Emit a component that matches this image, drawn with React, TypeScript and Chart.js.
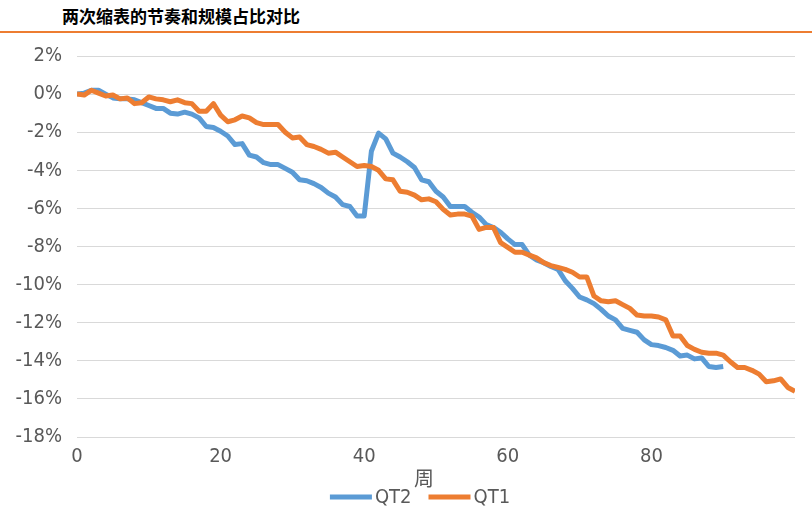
import React, { useEffect, useRef } from "react";
import { Chart, registerables } from "chart.js";

Chart.register(...registerables);

const TITLE = "两次缩表的节奏和规模占比对比";
const X_TITLE = "周";
const SERIES_NAMES = ["QT2", "QT1"];

// % change, one value per week
const QT2 = [
  0, 0.05, 0.2, 0.2, 0.0, -0.2, -0.25, -0.25, -0.3, -0.45,
  -0.6, -0.75, -0.75, -1.0, -1.05, -0.95, -1.05, -1.25, -1.7, -1.75,
  -1.95, -2.2, -2.65, -2.6, -3.2, -3.3, -3.6, -3.7, -3.7, -3.9,
  -4.1, -4.5, -4.55, -4.7, -4.9, -5.2, -5.4, -5.8, -5.9, -6.4,
  -6.4, -3.0, -2.05, -2.35, -3.1, -3.3, -3.55, -3.85, -4.5, -4.6,
  -5.1, -5.4, -5.9, -5.9, -5.9, -6.2, -6.45, -6.85, -7.0, -7.25,
  -7.6, -7.9, -7.9, -8.45, -8.7, -8.85, -9.05, -9.2, -9.8, -10.2,
  -10.65, -10.8, -11.0, -11.3, -11.65, -11.85, -12.3, -12.4, -12.5, -12.9,
  -13.15, -13.2, -13.3, -13.45, -13.75, -13.7, -13.9, -13.85, -14.3, -14.35,
  -14.3,
];

const QT1 = [
  0, -0.05, 0.2, 0.05, -0.1, -0.05, -0.25, -0.2, -0.5, -0.45,
  -0.15, -0.25, -0.3, -0.4, -0.3, -0.45, -0.5, -0.9, -0.9, -0.5,
  -1.1, -1.45, -1.35, -1.15, -1.25, -1.5, -1.6, -1.6, -1.6, -2.0,
  -2.3, -2.25, -2.65, -2.75, -2.9, -3.1, -3.05, -3.3, -3.55, -3.8,
  -3.75, -3.8, -4.0, -4.45, -4.5, -5.1, -5.15, -5.3, -5.55, -5.5,
  -5.65, -6.05, -6.35, -6.3, -6.3, -6.4, -7.1, -7.0, -7.0, -7.8,
  -8.05, -8.3, -8.3, -8.45, -8.6, -8.85, -9.0, -9.1, -9.2, -9.35,
  -9.6, -9.6, -10.6, -10.85, -10.9, -10.85, -11.05, -11.25, -11.6, -11.65,
  -11.65, -11.7, -11.85, -12.7, -12.7, -13.2, -13.4, -13.55, -13.6, -13.6,
  -13.7, -14.05, -14.35, -14.35, -14.5, -14.7, -15.1, -15.05, -14.95, -15.4,
  -15.6,
];

const WEEKS = QT1.map((_, i) => i);
const X_TICKS = [0, 20, 40, 60, 80];
const Y_MIN = -18;
const Y_MAX = 2;
const Y_STEP = 2;

const BLUE = "#5B9BD5";
const ORANGE = "#ED7D31";
const TEXT = "#595959";
const GRID = "#D9D9D9";
const NUM_FONT = '"DejaVu Sans Condensed", "Liberation Sans", sans-serif';

const overlayPlugin = {
  id: "overlay",
  afterDraw(chart: any) {
    const { ctx, chartArea } = chart;
    const mid = (chartArea.left + chartArea.right) / 2;
    ctx.save();
    ctx.fillStyle = TEXT;
    ctx.textBaseline = "middle";
    ctx.textAlign = "center";
    ctx.font = '20px "Noto Sans CJK SC"';
    ctx.fillText(X_TITLE, mid - 12, chartArea.bottom + 41);

    // legend
    ctx.font = "20px " + NUM_FONT;
    const lineLen = 42;
    const gapText = 3;
    const gapItem = 17;
    const items = [
      { name: SERIES_NAMES[0], color: BLUE },
      { name: SERIES_NAMES[1], color: ORANGE },
    ];
    const widths = items.map((it) => lineLen + gapText + ctx.measureText(it.name).width);
    const total = widths.reduce((a, b) => a + b, 0) + gapItem * (items.length - 1);
    let x = mid - 16 - total / 2;
    const y = chartArea.bottom + 60;
    ctx.textAlign = "left";
    items.forEach((it, i) => {
      ctx.strokeStyle = it.color;
      ctx.lineWidth = 5;
      ctx.lineCap = "butt";
      ctx.beginPath();
      ctx.moveTo(x, y);
      ctx.lineTo(x + lineLen, y);
      ctx.stroke();
      ctx.fillStyle = TEXT;
      ctx.fillText(it.name, x + lineLen + gapText, y + 1);
      x += widths[i] + gapItem;
    });
    ctx.restore();
  },
};

export default function App() {
  const ref = useRef<HTMLCanvasElement>(null);

  useEffect(() => {
    if (!ref.current) return;
    const chart = new Chart(ref.current, {
      type: "line",
      data: {
        labels: WEEKS,
        datasets: [
          {
            label: SERIES_NAMES[0],
            data: QT2,
            borderColor: BLUE,
            backgroundColor: BLUE,
            borderWidth: 5,
            pointRadius: 0,
            tension: 0,
            borderJoinStyle: "round",
            order: 1,
          },
          {
            label: SERIES_NAMES[1],
            data: QT1,
            borderColor: ORANGE,
            backgroundColor: ORANGE,
            borderWidth: 5,
            pointRadius: 0,
            tension: 0,
            borderJoinStyle: "round",
            order: 0,
          },
        ],
      },
      options: {
        responsive: false,
        animation: false,
        devicePixelRatio: 1,
        layout: { padding: { top: 56, right: 17, bottom: 0, left: 0 } },
        plugins: {
          legend: { display: false },
          tooltip: { enabled: false },
          title: { display: false },
        },
        scales: {
          x: {
            type: "linear",
            min: 0,
            max: 100,
            grid: { display: false, drawTicks: false },
            border: { display: false },
            afterBuildTicks: (s: any) => {
              s.ticks = X_TICKS.map((v) => ({ value: v }));
            },
            afterFit: (s: any) => {
              s.height = 78;
            },
            ticks: {
              color: TEXT,
              padding: 8,
              maxRotation: 0,
              font: { family: NUM_FONT, size: 20 },
            },
          },
          y: {
            min: Y_MIN,
            max: Y_MAX,
            grid: { color: GRID, lineWidth: 1, drawTicks: false },
            border: { display: false },
            afterFit: (s: any) => {
              s.width = 77;
            },
            ticks: {
              stepSize: Y_STEP,
              color: TEXT,
              padding: 15,
              font: { family: NUM_FONT, size: 20 },
              callback: (v: any) => `${v}%`,
            },
          },
        },
      },
      plugins: [overlayPlugin],
    });
    return () => chart.destroy();
  }, []);

  return (
    <div style={{ position: "absolute", left: 0, top: 0, width: 812, height: 515, background: "#fff", overflow: "hidden" }}>
      <div
        style={{
          position: "absolute",
          left: 62,
          top: 5,
          fontFamily: '"Noto Sans CJK SC", sans-serif',
          fontWeight: 700,
          fontSize: 17,
          lineHeight: "22px",
          color: "#000",
          whiteSpace: "nowrap",
        }}
      >
        {TITLE}
      </div>
      <div style={{ position: "absolute", left: 0, top: 31, width: 812, height: 2, background: ORANGE }} />
      <canvas ref={ref} width={812} height={515} style={{ position: "absolute", left: 0, top: 0 }} />
    </div>
  );
}
